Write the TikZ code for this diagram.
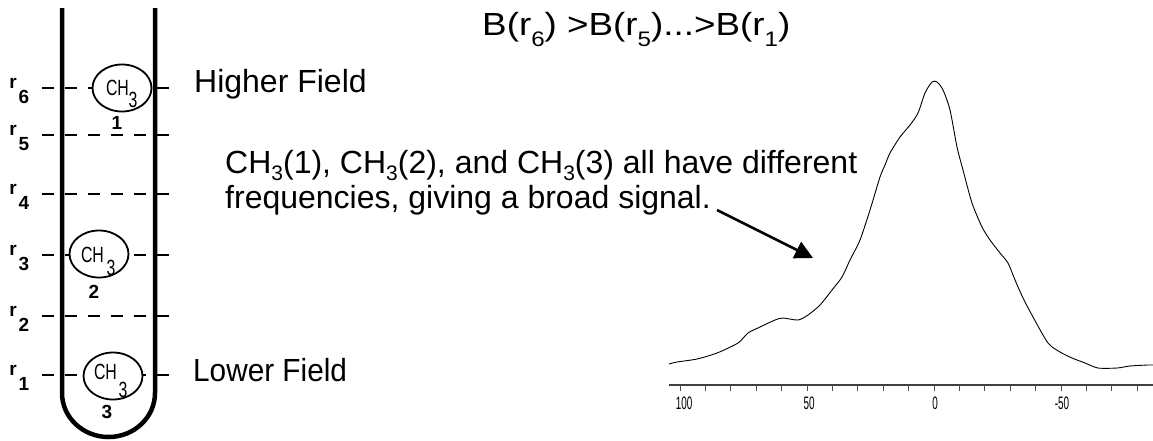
\documentclass[tikz,border=0pt]{standalone}
\usepackage{fontspec}
\usepackage{graphicx}
\setmainfont{Liberation Sans}
\usetikzlibrary{shapes.geometric,arrows.meta}
\newcommand\lowsub[2][-7pt]{\raisebox{#1}{\fontsize{21}{21}\selectfont #2}}
\newcommand\narrowtxt[2]{\scalebox{#1}[1]{#2}}
\begin{document}
\begin{tikzpicture}[x=1pt,y=-1pt,
  txt/.style={font=\fontsize{32}{38}\selectfont, inner sep=0, anchor=base west},
  rowdash/.style={line width=2.8pt, dash pattern=on 12pt off 11pt},
  wall/.style={line width=4.5pt},
  mol/.style={ellipse, draw, fill=white, line width=1.8pt, inner sep=0, minimum width=59pt, minimum height=47pt},
  moltxt/.style={font=\fontsize{22}{22}\selectfont, inner sep=0},
  rlab/.style={font=\bfseries\fontsize{19}{19}\selectfont, inner sep=0},
  tickmark/.style={line width=0.8pt, draw=black!70},
  ticklab/.style={font=\fontsize{18}{18}\selectfont, inner sep=0},
  arr/.style={line width=2.5pt, -{Triangle[length=18pt,width=18pt]}}
]
\fill[white] (0,0) rectangle (1153,440);
\useasboundingbox (0,0) rectangle (1153,440);

% dashed levels and their labels
\foreach \lvl/\yy in {6/88,5/135,4/194,3/255,2/316,1/375}{
  \draw[rowdash] (42,\yy) -- (171,\yy);
  \node[rlab] (r\lvl) at (13,\yy-5) {r};
  \node[rlab] (rs\lvl) at (24,\yy+9) {\lvl};
}

% molecules
\node[mol] (m1) at (122,88) {};
\node[mol] (m2) at (99,254) {};
\node[mol] (m3) at (113,376) {};
\node[moltxt] (m1ch) at (117.5,88) {\narrowtxt{0.72}{CH}};
\node[moltxt] (m1s) at (133,100) {\narrowtxt{0.72}{3}};
\node[moltxt] (m2ch) at (92.5,255) {\narrowtxt{0.72}{CH}};
\node[moltxt] (m2s) at (111,268) {\narrowtxt{0.72}{3}};
\node[moltxt] (m3ch) at (105.5,372) {\narrowtxt{0.72}{CH}};
\node[moltxt] (m3s) at (123,390) {\narrowtxt{0.72}{3}};
\node[rlab] (n1) at (117,123) {1};
\node[rlab] (n2) at (94,292) {2};
\node[rlab] (n3) at (107,412) {3};

% tube
\draw[wall] (62,8) -- (62,393) arc[start angle=180,end angle=0,x radius=46.5,y radius=44] -- (155,8);

% texts
\node[txt] (hf) at (194,92) {Higher Field};
\node[txt] (lf) at (193,381) {\narrowtxt{0.93}{Lower Field}};
\node[txt] (form) at (482,35) {\narrowtxt{1.15}{B(r\lowsub[-11pt]{6}) >B(r\lowsub[-11pt]{5})...>B(r\lowsub[-11pt]{1})}};
\node[txt] (l1) at (225,173) {CH\lowsub{3}(1), CH\lowsub{3}(2), and CH\lowsub{3}(3) all have different};
\node[txt] (l2) at (225,208) {frequencies, giving a broad signal.};

% arrow
\coordinate (aS) at (717,210);
\coordinate (aT) at (813,258);
\draw[arr] (aS) -- (aT);

% spectrum axis
\draw[line width=1.8pt, draw=black!75] (669,385) -- (1153,385);
\foreach \v in {100,90,...,-80}{
  \draw[tickmark] (934-2.54*\v,385) -- ++(0,6);
}
\node[ticklab] (t100) at (684,403) {\narrowtxt{0.55}{100}};
\node[ticklab] (t50) at (809,403) {\narrowtxt{0.55}{50}};
\node[ticklab] (t0) at (935,403) {\narrowtxt{0.55}{0}};
\node[ticklab] (tm50) at (1062,403) {\narrowtxt{0.55}{-50}};

% spectrum
\draw[line width=0.9pt, line join=round] plot[smooth, tension=0.45] coordinates {
(669,364) (677,362) (697,359) (717,353) (738,343) (748,333) (760,327) (775,320)
(783,318) (798,320) (808,315) (820,305) (832,290) (842,277) (850,260) (860,240)
(870,210) (880,177) (885,165) (890,153) (900,137) (910,125) (918,113) (925,93)
(932,82) (937,82) (943,90) (950,110) (957,147) (963,170) (972,203) (982,227)
(990,240) (1000,253) (1008,263) (1015,280) (1023,298) (1033,317) (1048,343)
(1060,352) (1072,358) (1085,363) (1098,368) (1117,368) (1130,366) (1148,365) (1153,365)};
\end{tikzpicture}
\end{document}
